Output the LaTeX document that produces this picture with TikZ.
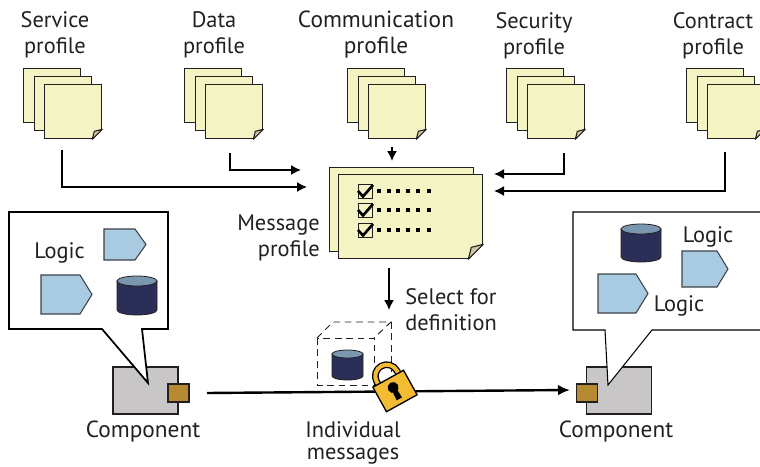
\documentclass[tikz,border=0pt]{standalone}
\usepackage{fontspec}
\setmainfont{PT Sans}
\usetikzlibrary{arrows.meta}

\definecolor{papercol}{HTML}{F4F3C4}
\definecolor{foldcol}{HTML}{CFC8A0}
\definecolor{inkcol}{HTML}{231F20}
\definecolor{bodycol}{HTML}{C8C6C7}
\definecolor{portcol}{HTML}{B58A33}
\definecolor{logiccol}{HTML}{A9CBE2}
\definecolor{dbcol}{HTML}{2B2F57}
\definecolor{dbtopcol}{HTML}{7A97B0}
\definecolor{lockcol}{HTML}{F4BC33}

\tikzset{
    paper/.style={draw=inkcol, fill=papercol, line width=1pt, inner sep=0pt, anchor=north west,
        minimum width=42.75pt, minimum height=40.5pt},
    bigpaper/.style={paper, minimum width=108pt, minimum height=63pt},
    flap/.style={draw=inkcol, fill=foldcol, line width=0.8pt, line join=round},
    label/.style={text=inkcol, font=\fontsize{16.8}{19.5}\selectfont, align=center, inner sep=0pt},
    widelabel/.style={label, font=\fontsize{17.5}{19.5}\selectfont},
    flow/.style={draw=black, line width=1.1pt, -{Latex[length=7.5pt,width=7.5pt]}},
    logicbox/.style={draw=inkcol!80!logiccol, fill=logiccol, line width=0.8pt, line join=miter},
    drum/.style={draw=inkcol, fill=dbcol, line width=0.6pt},
    drumtop/.style={draw=inkcol, fill=dbtopcol, line width=0.6pt},
    bodybox/.style={draw=inkcol, fill=bodycol, line width=0.9pt, inner sep=0pt,
        minimum width=48.75pt, minimum height=35.25pt},
    portbox/.style={draw=inkcol, fill=portcol, line width=1pt, inner sep=0pt,
        minimum width=15.75pt, minimum height=13.5pt},
    guide/.style={dash pattern=on 5pt off 3.6pt, draw=inkcol, line width=0.7pt},
}

% sheet corner turned up: node name, size of the fold
\newcommand{\foldcorner}[2]{
    \fill[white] (#1.south east) -- ++(0,-#2) -- ++(-#2,#2) -- cycle;
    \draw[flap] (#1.south east) ++(0,-#2) -- ++(-#2,#2) -- ++(0.2*#2,-0.8*#2) -- cycle;
}

% three sheets: name, x offset
\newcommand{\sheetstack}[2]{
    \node[paper] (#1back) at (23+#2,68) {};
    \node[paper] (#1mid) at (34+#2,76) {};
    \node[paper] (#1front) at (44+#2,84) {};
    \foldcorner{#1front}{10}
}

% data drum: left x, half width, top y, bottom y, flat radius
\newcommand{\datadrum}[5]{
    \draw[drum] (#1,#3) -- (#1,#4) arc[start angle=180, end angle=0, x radius=#2, y radius=#5] -- (#1+2*#2,#3) -- cycle;
    \draw[drumtop] (#1+#2,#3) ellipse [x radius=#2, y radius=#5];
}

\begin{document}
\begin{tikzpicture}[x=0.75pt,y=-0.75pt]

    \useasboundingbox (0,0) rectangle (760,467);

    % Profile sheets
    \sheetstack{service}{0}
    \sheetstack{data}{161}
    \sheetstack{comm}{324}
    \sheetstack{security}{483}
    \sheetstack{contract}{663}

    % Profile names
    \node[label] (servicetxt) at (55,35) {Service\\profile};
    \node[label] (datatxt) at (214,35) {Data\\profile};
    \node[widelabel] (commtxt) at (376,35) {Communication\\profile};
    \node[label] (securitytxt) at (534,36) {Security\\profile};
    \node[label] (contracttxt) at (713,36) {Contract\\profile};

    % Message profile sheets
    \node[bigpaper] (msgback) at (329,167) {};
    \node[bigpaper] (msgfront) at (338,174) {};
    \foldcorner{msgfront}{15}

    % Check list on the sheet
    \foreach \ypos in {184,203,223} {
        \draw[draw=inkcol, line width=0.7pt] (358,\ypos) rectangle ++(14,14);
        \draw[black, line width=2pt] (358,\ypos+7) -- (363,\ypos+12.5) -- (373,\ypos+1);
        \foreach \xpos in {379,389,398,408,418,429}
            \fill[black] (\xpos-2,\ypos+5) rectangle ++(4,4);
    }

    \node[label, align=right, anchor=east] (msgtxt) at (320,238) {Message\\profile};

    % Arrow ends around the message profile
    \coordinate (servicefrom) at (62,150);
    \coordinate (serviceto) at (307,187);
    \coordinate (datafrom) at (230,153);
    \coordinate (datato) at (301,170);
    \coordinate (commfrom) at (392,147);
    \coordinate (commto) at (392,161);
    \coordinate (securityfrom) at (564,153);
    \coordinate (securityto) at (494,174);
    \coordinate (contractfrom) at (725,152);
    \coordinate (contractto) at (494,191);
    \coordinate (selectfrom) at (389,268);
    \coordinate (selectto) at (389,310);

    \draw[flow] (servicefrom) |- (serviceto);
    \draw[flow] (datafrom) |- (datato);
    \draw[flow] (commfrom) -- (commto);
    \draw[flow] (securityfrom) |- (securityto);
    \draw[flow] (contractfrom) |- (contractto);
    \draw[flow] (selectfrom) -- (selectto);

    \node[label, align=left, anchor=west] (selecttxt) at (405,309.5) {Select for\\definition};

    % Components
    \node[bodybox] (bodyleft) at (145.5,390.5) {};
    \node[portbox] (portleft) at (178.5,393) {};
    \node[bodybox] (bodyright) at (619,390.5) {};
    \node[portbox] (portright) at (587,393) {};

    % Left component callout
    \draw[draw=black, fill=white, line width=1.3pt, line join=miter]
        (9,212) -- (168,212) -- (168,329) -- (142,329) -- (148,383) -- (102,329) -- (9,329) -- cycle;
    \node[label] (logicleft) at (59.5,253) {Logic};
    \draw[logicbox] (104,229) -- (135,229) -- (146,244.5) -- (135,260) -- (104,260) -- cycle;
    \draw[logicbox] (41,275) -- (80,275) -- (92,294.5) -- (80,314) -- (41,314) -- cycle;
    \datadrum{117}{20}{281}{310}{5}

    % Right component callout
    \draw[draw=black, fill=white, line width=0.8pt, line join=miter]
        (770,212) -- (573,212) -- (573,330) -- (605,330) -- (608,385) -- (652,330) -- (770,330);
    \node[label] (logicrighta) at (708,237) {Logic};
    \node[label] (logicrightb) at (679,306) {Logic};
    \draw[logicbox] (682,251) -- (717,251) -- (728,269) -- (717,287) -- (682,287) -- cycle;
    \draw[logicbox] (598,274) -- (636,274) -- (648,293.5) -- (636,313) -- (598,313) -- cycle;
    \datadrum{621}{20}{229}{257}{5}

    % Message line
    \coordinate (linefrom) at (207,393);
    \coordinate (lineto) at (570,390);
    \draw[draw=black, line width=1.8pt, -{Latex[length=9pt,width=8pt]}] (linefrom) -- (lineto);

    \node[widelabel] (compleft) at (143,431.5) {Component};
    \node[widelabel] (compright) at (616,431.5) {Component};

    % Dashed box around the message data
    \draw[guide] (317,338) rectangle (374,385);
    \draw[guide] (317,338) -- (333,322) -- (391,322) -- (374,338);
    \draw[guide] (391,322) -- (391,372);
    \datadrum{332}{15.5}{354}{376}{4}

    % Padlock
    \begin{scope}[shift={(395,391)},rotate=29]
        \draw[black, line width=5pt] (-11.5,-12) -- (-11.5,-17) arc (180:360:11.5) -- (11.5,-12);
        \draw[lockcol, line width=3pt] (-11.5,-12) -- (-11.5,-17) arc (180:360:11.5) -- (11.5,-12);
        \draw[draw=black, fill=lockcol, line width=1pt, line join=miter] (-17.5,-14) rectangle (17.5,14);
        \fill[black] (0,-4) circle (5.5);
        \fill[black] (-2.5,-2) -- (2.5,-2) -- (3,9) -- (-3,9) -- cycle;
    \end{scope}

    \node[label, font=\fontsize{16.8}{16.5}\selectfont] (itemstxt) at (353,442.5) {Individual\\messages};

\end{tikzpicture}
\end{document}
